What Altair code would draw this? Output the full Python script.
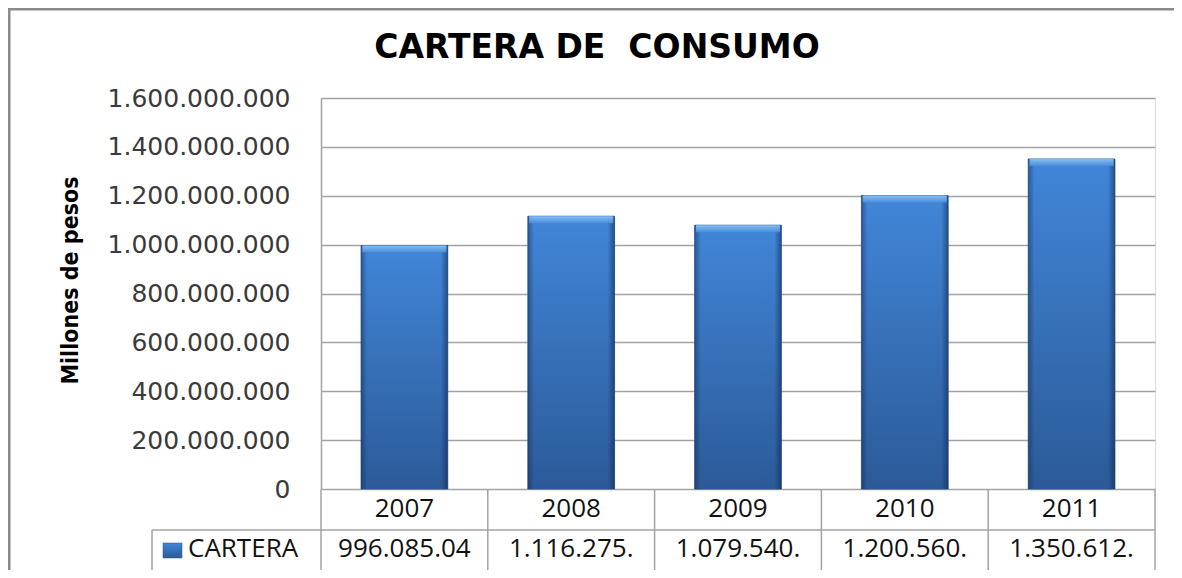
import altair as alt
import pandas as pd

# ---- data ----
YEARS = ["2007", "2008", "2009", "2010", "2011"]
CARTERA = [996085040, 1116275000, 1079540000, 1200560000, 1350612000]
TABLE_LABELS = ["996.085.04", "1.116.275.", "1.079.540.", "1.200.560.", "1.350.612."]
Y_TICKS = [0, 200000000, 400000000, 600000000, 800000000,
           1000000000, 1200000000, 1400000000, 1600000000]
TITLE = "CARTERA DE  CONSUMO"
SERIES = "CARTERA"
Y_TITLE = "Millones de pesos"

W, H = 834, 391
GRID = "#a3a3a3"
NARROW = "'Liberation Sans Narrow', 'DejaVu Sans Condensed', 'Arial Narrow', sans-serif"
TABLE_FONT = "Open Sans"

df = pd.DataFrame({"year": YEARS, "value": CARTERA, "label": TABLE_LABELS})
# keep the double space of the original title visible (SVG collapses plain spaces)
one = pd.DataFrame({"t": [TITLE.replace("  ", " \u00a0")], "s": [SERIES]})

x = alt.X("year:N", sort=YEARS, scale=alt.Scale(paddingInner=0, paddingOuter=0), axis=None)
y = alt.Y(
    "value:Q",
    scale=alt.Scale(domain=[0, 1600000000], nice=False),
    axis=alt.Axis(
        values=Y_TICKS, format=",d", title=Y_TITLE,
        grid=True, gridColor=GRID, gridWidth=1.5,
        domain=True, domainColor=GRID, domainWidth=1.5,
        ticks=False, labelPadding=31, labelLimit=400,
        labelFont="DejaVu Sans", labelFontSize=25, labelColor="#3a3a3a",
        titleFont=NARROW, titleFontSize=23, titleFontWeight="bold", titleColor="#000000",
        titleAngle=-90, titleX=-251, titleY=182, titleAlign="center", titleBaseline="middle",
    ),
)

bar_fill = alt.LinearGradient(
    gradient="linear", x1=0, x2=0, y1=0, y2=1,
    stops=[alt.GradientStop(offset=0, color="#4186d8"),
           alt.GradientStop(offset=1, color="#2c5a98")],
)
side_fill = alt.LinearGradient(
    gradient="linear", x1=0, x2=1, y1=0, y2=0,
    stops=[alt.GradientStop(offset=0, color="rgba(15,35,75,0.45)"),
           alt.GradientStop(offset=0.07, color="rgba(15,35,75,0)"),
           alt.GradientStop(offset=0.92, color="rgba(15,35,75,0)"),
           alt.GradientStop(offset=1, color="rgba(15,35,75,0.55)")],
)
top_fill = alt.LinearGradient(
    gradient="linear", x1=0, x2=0, y1=0, y2=1,
    stops=[alt.GradientStop(offset=0, color="#8cc6f6"),
           alt.GradientStop(offset=1, color="#4a8ddc")],
)

bars = alt.Chart(df).mark_bar(
    width=alt.RelativeBandSize(0.52), fill=bar_fill, stroke="#2a5590", strokeWidth=0.8
).encode(x=x, y=y)
sides = alt.Chart(df).mark_bar(width=alt.RelativeBandSize(0.52), fill=side_fill).encode(x=x, y=y)
tops = alt.Chart(df).mark_tick(size=84, thickness=7, yOffset=3.5, fill=top_fill, opacity=0.9).encode(x=x, y=y)

# ---- data table below the plot ----
year_text = alt.Chart(df).mark_text(
    font=TABLE_FONT, fontSize=26, color="#111111", baseline="alphabetic"
).encode(x=x, y=alt.value(H + 28), text="year:N")
value_text = alt.Chart(df).mark_text(
    font=TABLE_FONT, fontSize=26, color="#111111", baseline="alphabetic"
).encode(x=x, y=alt.value(H + 68), text="label:N")

vlines = alt.Chart(df).mark_rule(color=GRID, strokeWidth=1.5).encode(
    x=alt.X("year:N", sort=YEARS, bandPosition=0, scale=alt.Scale(paddingInner=0, paddingOuter=0), axis=None),
    y=alt.value(H), y2=alt.value(H + 82),
)
vline_end = alt.Chart(df).transform_filter(alt.datum.year == YEARS[-1]).mark_rule(
    color=GRID, strokeWidth=1.5
).encode(
    x=alt.X("year:N", sort=YEARS, bandPosition=1, scale=alt.Scale(paddingInner=0, paddingOuter=0), axis=None),
    y=alt.value(H), y2=alt.value(H + 82),
)
hline_mid = alt.Chart(one).mark_rule(color=GRID, strokeWidth=1.5).encode(
    x=alt.value(-169), x2=alt.value(W), y=alt.value(H + 41))
hline_bot = alt.Chart(one).mark_rule(color=GRID, strokeWidth=1.5).encode(
    x=alt.value(-169), x2=alt.value(W), y=alt.value(H + 82))
vline_left = alt.Chart(one).mark_rule(color=GRID, strokeWidth=1.5).encode(
    x=alt.value(-169), y=alt.value(H + 41), y2=alt.value(H + 82))

legend_key = alt.Chart(one).mark_rect(fill=bar_fill, stroke="#2a5590", strokeWidth=0.5).encode(
    x=alt.value(-158), x2=alt.value(-139), y=alt.value(H + 54), y2=alt.value(H + 69))
legend_text = alt.Chart(one).mark_text(
    font=TABLE_FONT, fontSize=26, color="#111111", align="left", baseline="alphabetic"
).encode(x=alt.value(-133), y=alt.value(H + 68), text="s:N")

title = alt.Chart(one).mark_text(
    font="DejaVu Sans", fontSize=33, fontWeight="bold", color="#000000",
    align="center", baseline="alphabetic"
).encode(x=alt.value(276), y=alt.value(-40), text="t:N")

border = alt.Chart(one).mark_rect(fillOpacity=0, stroke="#8a8a8a", strokeWidth=3).encode(
    x=alt.value(-312), x2=alt.value(W + 40), y=alt.value(-89), y2=alt.value(H + 120))

chart = alt.layer(
    border, bars, sides, tops, year_text, value_text, vlines, vline_end,
    hline_mid, hline_bot, vline_left, legend_key, legend_text, title,
).properties(
    width=W, height=H,
    autosize=alt.AutoSizeParams(type="none"),
    padding={"left": 313, "top": 90, "right": 19, "bottom": 81},
    background="white",
).configure_view(stroke=None).configure(
    locale={"number": {"decimal": ",", "thousands": ".", "grouping": [3], "currency": ["$", ""]}}
)

chart.save("out.html", embed_options={"renderer": "svg", "actions": False})
